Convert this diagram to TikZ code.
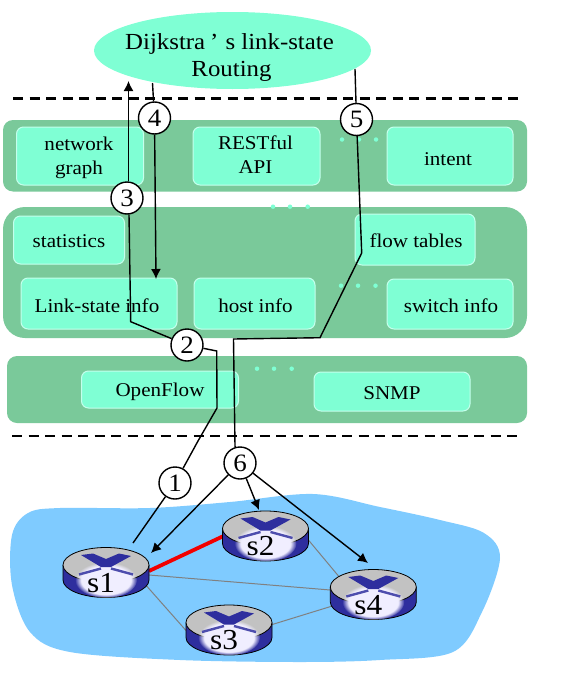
\documentclass[tikz,border=0pt]{standalone}
\usepackage{fontspec}
\setmainfont[FakeStretch=1.08]{Liberation Serif}
\usetikzlibrary{shapes.geometric,arrows.meta,calc,fadings}
\definecolor{aqua}{HTML}{7FFFD4}
\definecolor{panelgreen}{HTML}{7AC99A}
\definecolor{aquaedge}{HTML}{C4FFEC}
\definecolor{cloudblue}{HTML}{7FCBFF}
\definecolor{swblue}{HTML}{2E2E9E}
\definecolor{swgray}{HTML}{C2C2C2}
\definecolor{linkgray}{HTML}{808080}
\definecolor{glow}{HTML}{F0EEFF}
\tikzset{
  panel/.style={fill=panelgreen,draw=none,rectangle,outer sep=0pt,inner sep=0pt},
  innerbox/.style={fill=aqua,draw=aquaedge,line width=1pt,rounded corners=7pt,outer sep=0pt,inner sep=0pt},
  boxtext/.style={align=center,inner sep=0pt,font=\fontsize{19.5}{24}\selectfont},
  dotmark/.style={circle,fill=aqua,draw=none,minimum size=4.5pt,inner sep=0pt},
  numcircle/.style={circle,fill=white,draw=black,line width=1.4pt,minimum size=32pt,inner sep=0pt,font=\fontsize{25}{25}\selectfont},
  conn/.style={draw=black,line width=1.4pt,line join=miter},
  arrowconn/.style={conn,-{Latex[length=10pt,width=10pt]}},
  dashline/.style={draw=black,line width=2.3pt,dash pattern=on 10pt off 6.5pt},
  graylink/.style={draw=linkgray,line width=1pt},
  redlink/.style={draw=red!95!black,line width=3.8pt},
  swbox/.style={rectangle,draw=none,minimum width=86pt,minimum height=51pt,inner sep=0pt,outer sep=0pt},
  swlabel/.style={font=\fontsize{29}{29}\selectfont,inner sep=0pt},
}
% name, x, y, width, height, text x offset, text y offset (down), text
\newcommand{\boxnode}[8]{%
  \node[innerbox,minimum width=#4pt,minimum height=#5pt] (#1) at (#2,#3) {};
  \node[boxtext] (#1text) at ($(#1.center)+(#6,#7)$) {#8};}
\newcommand{\swdraw}[4]{%
  \begin{scope}[shift={(#2,#3)}]
    \fill[swblue] (-43,0) -- (-43,15) arc[x radius=43,y radius=17.5,start angle=180,end angle=0] -- (43,0) -- cycle;
    \draw[black,line width=0.8pt] (-43,0) -- (-43,15) arc[x radius=43,y radius=17.5,start angle=180,end angle=0] -- (43,0);
    \fill[swgray,draw=black,line width=0.8pt] (0,0) ellipse[x radius=43,y radius=17.5];
    \fill[glow,path fading=circle with fuzzy edge 20 percent] (0,15) ellipse[x radius=31,y radius=18];
    \fill[swblue] (-25,-10) -- (-13,-11.5) -- (0,-6) -- (13,-11.5) -- (25,-9) -- (5,2) -- (-5,2) -- cycle;
    \draw[swblue!85!white,line width=2.4pt] (-5,3.5) -- (-27,9.5) (5,3.5) -- (27,9.5);
    \node[swbox] (#1) at (0,8) {};
    \node[swlabel] (#1lab) at (-5,18) {#4};
  \end{scope}}
\begin{document}
\begin{tikzpicture}[x=1pt,y=-1pt]
\useasboundingbox (0,0) rectangle (563,680);
% cloud
\fill[cloudblue] plot[smooth cycle,tension=0.55] coordinates {
 (28,513) (60,508) (150,508) (230,502) (313,494) (380,507) (440,520) (484,533) (500,558)
 (482,612) (453,652) (380,660) (300,662) (180,660) (70,652) (30,632) (12,585) (12,535)};
% ellipse
\node[ellipse,fill=aqua,draw=none,minimum width=277pt,minimum height=77pt,inner sep=0pt,outer sep=0pt] (alg) at (232.5,50.5) {};
\node[boxtext,font=\fontsize{23}{27}\selectfont] (algtext) at ($(alg.center)+(-3,7.5)$) {Dijkstra\hspace{5pt}’\hspace{7pt}s link-state\\\hspace{4pt}Routing};
% dashed separators
\coordinate (d1a) at (13,98.5); \coordinate (d1b) at (520,98.5);
\coordinate (d2a) at (12,436); \coordinate (d2b) at (519,436);
\draw[dashline] (d1a) -- (d1b);
\draw[dashline] (d2a) -- (d2b);
% panels
\node[panel,rounded corners=10pt,minimum width=524pt,minimum height=71.5pt] (p1) at (265,155.75) {};
\node[panel,rounded corners=22pt,minimum width=524pt,minimum height=131pt] (p2) at (265,272.5) {};
\node[panel,rounded corners=10pt,minimum width=520pt,minimum height=67pt] (p3) at (267,389.5) {};
% inner boxes
\boxnode{netgraph}{80}{156}{127}{58}{-1}{1.5}{network\\graph}
\boxnode{rest}{256.5}{156}{127}{58}{-1}{-1}{RESTful\\API}
\boxnode{intent}{450}{156}{126}{58}{-2}{3}{intent}
\boxnode{stats}{69}{240}{111}{48}{0}{1}{statistics}
\boxnode{lsinfo}{99}{303.5}{156}{51}{-2}{2.5}{Link-state info}
\boxnode{hostinfo}{254.5}{303.5}{121}{51}{1}{2.5}{host info}
\boxnode{flowt}{415}{239.5}{120}{51}{1}{1.5}{flow tables}
\boxnode{swinfo}{450}{304}{126}{50}{1}{2}{switch info}
\boxnode{ofl}{160}{389.5}{157}{37}{0}{2}{OpenFlow}
\boxnode{snmp}{392}{391.5}{156}{39}{0}{2}{SNMP}
% ellipsis dots
\foreach \n/\x/\y in {a/342/139.5,b/359/139.5,c/376/139.5,d/273/206.7,e/290/206.7,f/307.7/206.7,
  g/341/285.7,h/358/285.7,i/375.5/285.7,j/257/368.7,k/274/368.7,l/291.7/368.7}
  \node[dotmark] (dot\n) at (\x,\y) {};
% switch centres for links, then links under switches
\coordinate (ls1) at (106,573); \coordinate (ls2) at (265.5,536.5);
\coordinate (ls3) at (229,630.5); \coordinate (ls4) at (373.3,595);
\draw[graylink] ($(ls1)+(43,2)$) -- ($(ls4)+(-43,-5)$);
\draw[graylink] ($(ls1)+(38,10)$) -- ($(ls3)+(-43,0)$);
\draw[graylink] ($(ls2)+(40,0)$) -- ($(ls4)+(-34,-18)$);
\draw[graylink] ($(ls3)+(40,-5)$) -- ($(ls4)+(-41,11)$);
\draw[redlink] ($(ls1)+(43,-2)$) -- ($(ls2)+(-43,0)$);
% switches
\swdraw{s1}{106}{565}{s1}
\swdraw{s2}{265.5}{528.5}{s2}
\swdraw{s3}{229}{622.5}{s3}
\swdraw{s4}{373.3}{587}{s4}
% numbered circles
\node[numcircle] (c1) at (175,483) {1};
\node[numcircle] (c2) at (187,345) {2};
\node[numcircle] (c3) at (127,198) {3};
\node[numcircle] (c4) at (154.5,118) {4};
\node[numcircle] (c5) at (356.5,119.5) {5};
\node[numcircle] (c6) at (240,463) {6};
% route coordinates
\coordinate (t3) at (128.5,81);
\coordinate (b4) at (152.5,83);
\coordinate (t4) at (156,279);
\coordinate (b5) at (355,69);
\coordinate (q1) at (130.7,321.7);
\coordinate (r1) at (216.7,351);
\coordinate (r2) at (217,408);
\coordinate (r3) at (198,441);
\coordinate (e1) at (133,543);
\coordinate (u1) at (361.7,253);
\coordinate (u2) at (320,337.7);
\coordinate (u3) at (233.5,339);
\coordinate (u4) at (235,446);
\coordinate (a1) at (151,553);
\coordinate (a2) at (259,510);
\coordinate (a4) at (368,563);
% connectors
\draw[arrowconn] (c3.north) ++(1.5,0) -- (t3);
\draw[conn] (c3.south) ++(2,0) -- (q1) -- (c2);
\draw[conn] (c2) -- (r1) -- (r2) -- (r3) -- (c1);
\draw[conn] (c1) -- (e1);
\draw[conn] (b4) -- (c4);
\draw[arrowconn] (c4) -- (t4);
\draw[conn] (b5) -- (c5);
\draw[conn] (c5) -- (u1) -- (u2) -- (u3) -- (u4) -- (c6);
\draw[arrowconn] (c6) -- (a1);
\draw[arrowconn] (c6) -- (a2);
\draw[arrowconn] (c6) -- (a4);
\end{tikzpicture}
\end{document}
